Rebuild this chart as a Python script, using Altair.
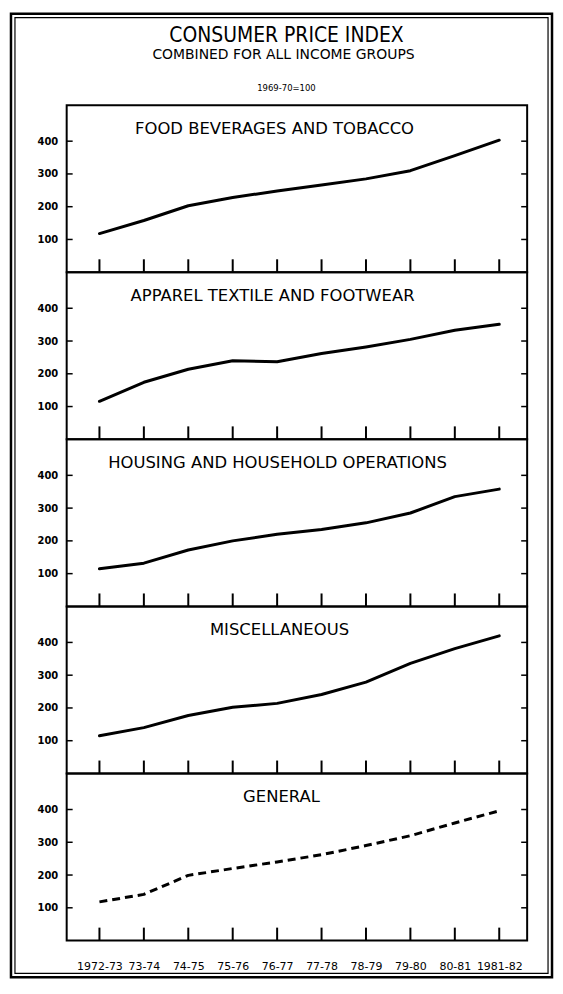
import altair as alt
import pandas as pd

# ---------------- data ----------------
periods = ["1972-73", "73-74", "74-75", "75-76", "76-77", "77-78",
           "78-79", "79-80", "80-81", "1981-82"]
food = [118, 158, 203, 228, 248, 266, 285, 310, 356, 403]
apparel = [116, 174, 214, 240, 237, 262, 282, 305, 333, 351]
housing = [115, 132, 172, 200, 220, 235, 255, 285, 335, 358]
misc = [115, 140, 177, 202, 214, 241, 279, 336, 381, 420]
general = [118, 141, 199, 220, 240, 262, 290, 320, 359, 396]
panel_titles = ["FOOD BEVERAGES AND TOBACCO", "APPAREL TEXTILE AND FOOTWEAR",
                "HOUSING AND HOUSEHOLD OPERATIONS", "MISCELLANEOUS", "GENERAL"]
series = [food, apparel, housing, misc, general]
y_ticks = [100, 200, 300, 400]
main_title = "CONSUMER PRICE INDEX"
sub_title = "COMBINED FOR ALL INCOME GROUPS"
base_note = "1969-70=100"

# ---------------- layout ----------------
W, H = 463, 168
FONT = "DejaVu Sans"
TITLE_X = [209, 207, 212, 214, 216]

xscale = alt.Scale(type="point", padding=0.683, align=0.54)
yscale = alt.Scale(domain=[0, 510], nice=False, zero=True)


def panel(i):
    df = pd.DataFrame({"period": periods, "value": series[i]})
    last = i == len(series) - 1
    if last:
        xaxis = alt.Axis(title=None, ticks=False, tickSize=0, domain=False, grid=False,
                         labelAngle=0, labelPadding=20, labelFontSize=11,
                         labelFont=FONT, labelColor="black")
    else:
        xaxis = None
    x = alt.X("period:O", sort=periods, scale=xscale, axis=xaxis)
    y = alt.Y("value:Q", scale=yscale,
              axis=alt.Axis(values=y_ticks, title=None, ticks=False, tickSize=0,
                            domain=False, grid=False, labelPadding=9,
                            labelFontSize=10, labelFont=FONT, labelColor="black",
                            labelFontWeight="bold"))
    line_kwargs = dict(color="black", strokeWidth=3, strokeCap="round", strokeJoin="round")
    if last:
        line_kwargs["strokeDash"] = [8, 5]
        line_kwargs["strokeCap"] = "butt"
    line = alt.Chart(df).mark_line(**line_kwargs).encode(x=x, y=y)

    tdf = pd.DataFrame({"t": y_ticks})
    lt = alt.Chart(tdf).mark_rule(color="black", strokeWidth=1.5).encode(
        y=alt.Y("t:Q", scale=yscale), x=alt.value(0), x2=alt.value(6))
    rt = alt.Chart(tdf).mark_rule(color="black", strokeWidth=1.5).encode(
        y=alt.Y("t:Q", scale=yscale), x=alt.value(W - 6), x2=alt.value(W))
    xt = alt.Chart(df).mark_rule(color="black", strokeWidth=2).encode(
        x=alt.X("period:O", sort=periods, scale=xscale),
        y=alt.value(H), y2=alt.value(H - 13))
    ttl = alt.Chart(pd.DataFrame({"label": [panel_titles[i]]})).mark_text(
        align="center", baseline="middle", fontSize=16.5, font=FONT, color="black"
    ).encode(text="label:N", x=alt.value(TITLE_X[i]), y=alt.value(24))

    layers = [line, lt, rt, xt, ttl]
    if i == 0:
        one = pd.DataFrame({"a": [0]})
        outer = alt.Chart(one).mark_rect(fillOpacity=0, stroke="black", strokeWidth=2.5).encode(
            x=alt.value(-56), x2=alt.value(488), y=alt.value(-92), y2=alt.value(877))
        inner = alt.Chart(one).mark_rect(fillOpacity=0, stroke="black", strokeWidth=1.2).encode(
            x=alt.value(-52), x2=alt.value(484), y=alt.value(-88), y2=alt.value(873))
        hdr = pd.DataFrame({"txt": [main_title, sub_title, base_note]})
        t1 = alt.Chart(hdr.iloc[[0]]).mark_text(
            align="center", baseline="middle", fontSize=21, font="DejaVu Sans Condensed",
            color="black").encode(text="txt:N", x=alt.value(221), y=alt.value(-69))
        t2 = alt.Chart(hdr.iloc[[1]]).mark_text(
            align="center", baseline="middle", fontSize=14, font=FONT,
            color="black").encode(text="txt:N", x=alt.value(218), y=alt.value(-50))
        t3 = alt.Chart(hdr.iloc[[2]]).mark_text(
            align="center", baseline="middle", fontSize=8.5, font=FONT,
            color="black").encode(text="txt:N", x=alt.value(221), y=alt.value(-17))
        layers += [outer, inner, t1, t2, t3]
    return alt.layer(*layers).properties(width=W, height=H)


chart = alt.vconcat(*[panel(i) for i in range(len(series))], spacing=0,
                    bounds="flush").properties(
    padding=0, background="white"
).configure_view(stroke="black", strokeWidth=2).configure_concat(spacing=0)

chart.save("out.html", embed_options={"renderer": "svg", "actions": False})
